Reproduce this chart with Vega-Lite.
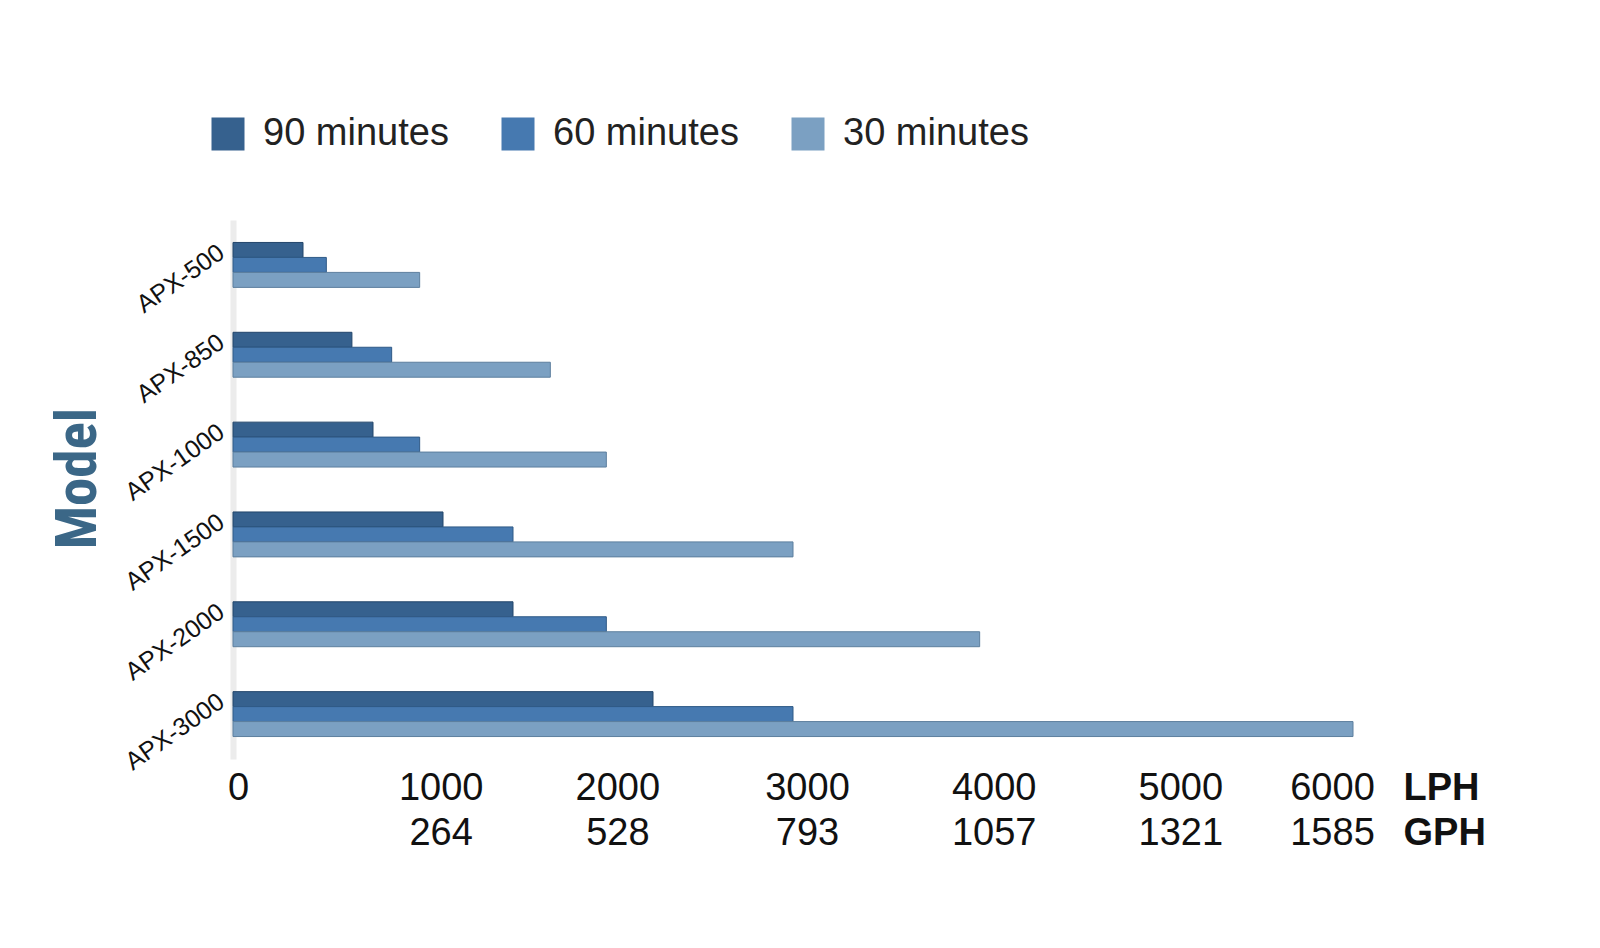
{
  "$schema": "https://vega.github.io/schema/vega-lite/v6.json",
  "autosize": {"type": "none"},
  "padding": {"left": 233, "top": 220, "right": 247, "bottom": 189},
  "width": 1120,
  "height": 539,
  "background": "#ffffff",
  "data": {
    "values": [
      {"model": "APX-500", "series": "90 minutes", "lph": 375},
      {"model": "APX-500", "series": "60 minutes", "lph": 500},
      {"model": "APX-500", "series": "30 minutes", "lph": 1000},
      {"model": "APX-850", "series": "90 minutes", "lph": 637},
      {"model": "APX-850", "series": "60 minutes", "lph": 850},
      {"model": "APX-850", "series": "30 minutes", "lph": 1700},
      {"model": "APX-1000", "series": "90 minutes", "lph": 750},
      {"model": "APX-1000", "series": "60 minutes", "lph": 1000},
      {"model": "APX-1000", "series": "30 minutes", "lph": 2000},
      {"model": "APX-1500", "series": "90 minutes", "lph": 1125},
      {"model": "APX-1500", "series": "60 minutes", "lph": 1500},
      {"model": "APX-1500", "series": "30 minutes", "lph": 3000},
      {"model": "APX-2000", "series": "90 minutes", "lph": 1500},
      {"model": "APX-2000", "series": "60 minutes", "lph": 2000},
      {"model": "APX-2000", "series": "30 minutes", "lph": 4000},
      {"model": "APX-3000", "series": "90 minutes", "lph": 2250},
      {"model": "APX-3000", "series": "60 minutes", "lph": 3000},
      {"model": "APX-3000", "series": "30 minutes", "lph": 6000}
    ]
  },
  "mark": {"type": "bar", "strokeWidth": 1},
  "encoding": {
    "y": {
      "field": "model",
      "type": "nominal",
      "sort": ["APX-500", "APX-850", "APX-1000", "APX-1500", "APX-2000", "APX-3000"],
      "scale": {"paddingInner": 0.5, "paddingOuter": 0.25},
      "axis": {
        "title": "Model",
        "titleFont": "Liberation Sans Narrow, Roboto Condensed, Liberation Sans",
        "titleFontWeight": "bold",
        "titleFontSize": 57,
        "titleColor": "#3b6787",
        "titleAngle": -90,
        "titleX": -155,
        "titleY": 258,
        "titleAlign": "center",
        "titleBaseline": "middle",
        "labelAngle": -35,
        "labelAlign": "right",
        "labelBaseline": "middle",
        "labelFont": "Liberation Sans",
        "labelFontSize": 25,
        "labelColor": "#111111",
        "labelPadding": 12,
        "labelOffset": -15,
        "ticks": false,
        "tickSize": 0,
        "domainColor": "#ececec",
        "domainWidth": 6,
        "grid": false
      }
    },
    "yOffset": {
      "field": "series",
      "type": "nominal",
      "sort": ["90 minutes", "60 minutes", "30 minutes"],
      "scale": {"paddingInner": 0, "paddingOuter": 0}
    },
    "x": {
      "field": "lph",
      "type": "quantitative",
      "scale": {"domain": [0, 6000], "nice": false},
      "axis": {
        "values": [0, 1000, 2000, 3000, 4000, 5000, 6000],
        "labelExpr": "datum.value == 0 ? '0' : [datum.label, ['', '264', '528', '793', '1057', '1321', '1585'][datum.value / 1000]]",
        "format": "d",
        "labelFont": "Liberation Sans",
        "labelFontSize": 38,
        "labelColor": "#111111",
        "labelLineHeight": 45,
        "labelBaseline": "top",
        "labelPadding": 10,
        "labelOverlap": false,
        "labelFlush": false,
        "labelOffset": {"condition": [{"test": "datum.value == 6000", "value": -21}, {"test": "datum.value == 0", "value": 5}, {"test": "datum.value == 1000", "value": 21}, {"test": "datum.value == 2000", "value": 11}], "value": 14},
        "ticks": false,
        "tickSize": 0,
        "domain": false,
        "grid": false,
        "title": ["LPH", "GPH"],
        "titleFont": "Liberation Sans",
        "titleFontWeight": "bold",
        "titleFontSize": 38,
        "titleColor": "#111111",
        "titleLineHeight": 45,
        "titleAlign": "left",
        "titleBaseline": "top",
        "titleX": 1170,
        "titleY": 10
      }
    },
    "color": {
      "field": "series",
      "type": "nominal",
      "sort": ["90 minutes", "60 minutes", "30 minutes"],
      "scale": {"domain": ["90 minutes", "60 minutes", "30 minutes"], "range": ["#36618e", "#4679b0", "#7ba0c2"]},
      "legend": {
        "title": null,
        "orient": "none",
        "direction": "horizontal",
        "legendX": -24,
        "legendY": -105,
        "symbolType": "square",
        "symbolSize": 1089,
        "symbolStrokeWidth": 0,
        "symbolOpacity": 1,
        "labelFont": "Liberation Sans",
        "labelFontSize": 38,
        "labelColor": "#222222",
        "labelOffset": 16,
        "columnPadding": 50,
        "labelLimit": 400
      }
    },
    "stroke": {
      "field": "series",
      "type": "nominal",
      "scale": {"domain": ["90 minutes", "60 minutes", "30 minutes"], "range": ["#23466b", "#2f5a86", "#5d7f9e"]},
      "legend": null
    }
  },
  "config": {"view": {"stroke": null}}
}
